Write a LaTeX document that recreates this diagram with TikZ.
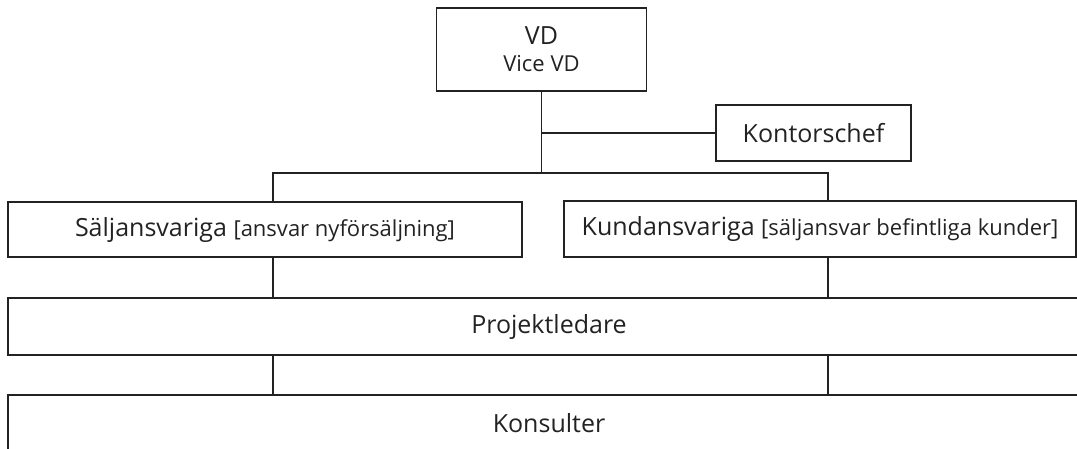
\documentclass[tikz,border=0pt]{standalone}
\usepackage{fontspec}
\setmainfont{Open Sans}
\usepackage{tikz}
\usetikzlibrary{positioning}

\newcommand{\stor}{\fontsize{25}{29}\selectfont}
\newcommand{\liten}{\fontsize{22}{29}\selectfont}
\definecolor{linje}{HTML}{222222}

\begin{document}
\begin{tikzpicture}[x=1pt, y=-1pt, line width=1.5pt, draw=linje, text=linje]
			\tikzstyle{box} = [draw, rectangle, inner sep=0pt, align=center, font=\stor]
			\path[use as bounding box] (0,0) rectangle (1077,448);
			\clip (0,0) rectangle (1077,448);
			\begin{scope}
			\path
			node[box, minimum width=210, minimum height=83] (VD) at (541.5,49.5) {VD\\[-2pt]{\liten Vice VD}}
			node[box, minimum width=195, minimum height=56] (KC) at (813.5,133) {Kontorschef}
			node[box, minimum width=514, minimum height=55] (SA) at (265,229.5) {Säljansvariga {\liten [ansvar nyförsäljning]}}
			node[box, minimum width=512, minimum height=56] (KA) at (820,229) {Kundansvariga {\liten [säljansvar befintliga kunder]}}
			node[box, minimum width=1082, minimum height=57] (PL) at (549,326.5) {Projektledare}
			node[box, minimum width=1082, minimum height=57] (KO) at (549,423.5) {Konsulter}
			;
			\coordinate (busL) at (273,173);
			\coordinate (busR) at (828,173);
			\coordinate (busM) at (VD.south |- busL);
			\draw (VD.south) -- (busM);
			\draw (VD.south |- KC.west) -- (KC.west);
			\draw (busL |- SA.north) |- (busR) -- (busR |- KA.north);
			\draw (busL |- SA.south) -- (busL |- PL.north);
			\draw (busR |- KA.south) -- (busR |- PL.north);
			\draw (busL |- PL.south) -- (busL |- KO.north);
			\draw (busR |- PL.south) -- (busR |- KO.north);
			\end{scope}
			\end{tikzpicture}
\end{document}
